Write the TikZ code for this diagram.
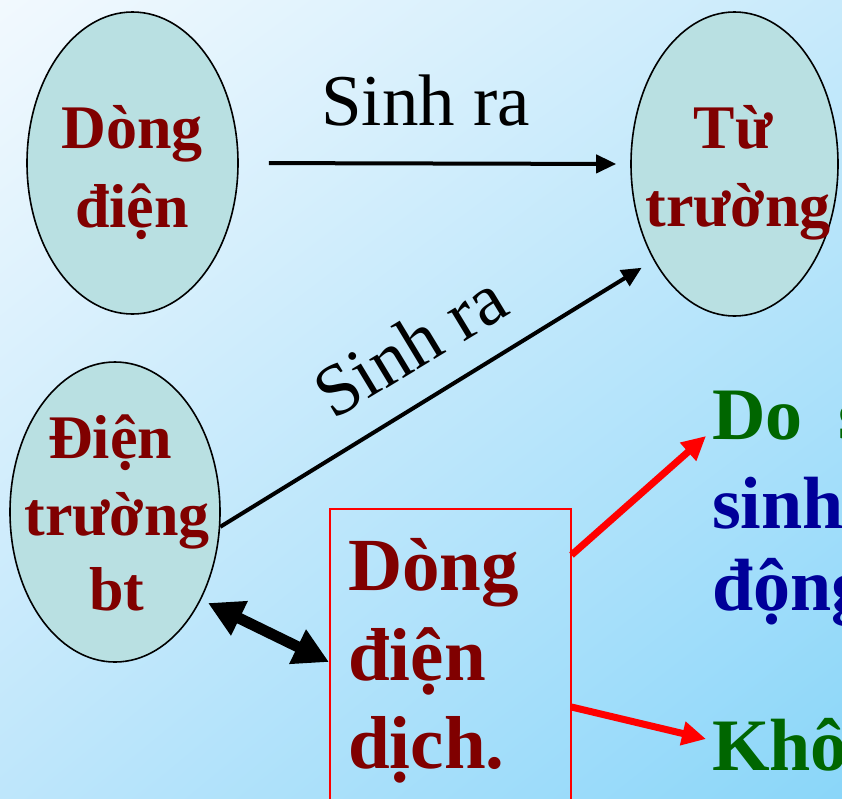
\documentclass[tikz,border=0pt]{standalone}
\usepackage{fontspec}
\setmainfont{Liberation Serif}
\usetikzlibrary{shapes.geometric,arrows.meta,calc,shadings}
\definecolor{bgA}{RGB}{242,249,254}
\definecolor{bgB}{RGB}{200,234,251}
\definecolor{bgD}{RGB}{190,230,251}
\definecolor{bgC}{RGB}{138,214,249}
\definecolor{ellfill}{RGB}{185,224,226}
\definecolor{dred}{RGB}{128,0,0}
\definecolor{dgreen}{RGB}{0,102,0}
\definecolor{dblue}{RGB}{0,0,153}
\tikzset{
  ell/.style={ellipse, draw=black, line width=1.6pt, fill=ellfill, inner sep=0pt},
  elltext/.style={anchor=base, inner sep=0pt, text=dred, font=\fontsize{62}{74}\bfseries\selectfont},
  boxtext/.style={anchor=base west, inner sep=0pt, text=dred, font=\fontsize{75}{88}\bfseries\selectfont},
  lbl/.style={inner sep=0pt, font=\fontsize{73}{88}\selectfont},
  rgreen/.style={anchor=base west, inner sep=0pt, text=dgreen, font=\fontsize{74}{88}\bfseries\selectfont},
  rblue/.style={anchor=base west, inner sep=0pt, text=dblue, font=\fontsize{74}{88}\bfseries\selectfont},
  blkarrow/.style={line width=4pt, -{Triangle[length=20pt,width=18pt]}},
  redarrow/.style={draw=red, line width=7pt, -{Triangle[length=24pt,width=23pt]}},
  dblarrow/.style={line width=11pt, {Triangle[length=35pt,width=36pt]}-{Triangle[length=35pt,width=36pt]}},
}
\begin{document}
\begin{tikzpicture}[x=1pt,y=-1pt]
\useasboundingbox (0,0) rectangle (842,798);
\clip (0,0) rectangle (842,798);
\shade[upper left=bgA, upper right=bgB, lower left=bgD, lower right=bgC] (0,0) rectangle (842,798);

% ellipses
\node[ell, minimum width=211pt, minimum height=302pt] (e1) at (132.5,163) {};
\node[ell, minimum width=207pt, minimum height=304pt] (e2) at (734.5,164) {};
\node[ell, minimum width=210pt, minimum height=300pt] (e3) at (115,512) {};

\node[elltext] (t1a) at (132,148) {Dòng};
\node[elltext] (t1b) at (132,227) {điện};
\node[elltext] (t2a) at (733,148) {Từ};
\node[elltext] (t2b) at (738,226) {trường};
\node[elltext] (t3a) at (110,458) {Điện};
\node[elltext] (t3b) at (117,535) {trường};
\node[elltext] (t3c) at (117,610) {bt};

% box
\node[draw=red, line width=1.5pt, minimum width=241pt, minimum height=340pt, anchor=north west, inner sep=0pt] (box) at (329,508) {};
\node[boxtext] (b1) at (348,590) {Dòng};
\node[boxtext] (b2) at (348,680) {điện};
\node[boxtext] (b3) at (348,768) {dịch.};

% right texts
\node[rgreen] (r1) at (712,439) {Do\hspace{36pt}s};
\node[rblue] (r2) at (712,528) {sinh};
\node[rblue] (r3) at (712,610) {động};
\node[rgreen] (r4) at (712,770) {Khô};

% labels
\node[lbl, anchor=base west] (s1) at (321,125) {Sinh ra};
\node[lbl, anchor=base west, rotate=31.2] (s2) at (333,421) {Sinh ra};

% connectors
\draw[blkarrow, shorten <=30pt, shorten >=14pt] (e1.east) -- (e2.west);
\draw[blkarrow, shorten >=14pt] (e3.-8) -- (e2.230);
\draw[dblarrow] ($(e3.center)+(93,91)$) -- ($(box.north west)+(0,154)$);
\draw[redarrow] ($(box.north east)+(0,47)$) -- ($(r1.base west)+(-6,-3)$);
\draw[redarrow] ($(box.north east)+(0,199)$) -- ($(r4.base west)+(-6,-31)$);
\end{tikzpicture}
\end{document}
